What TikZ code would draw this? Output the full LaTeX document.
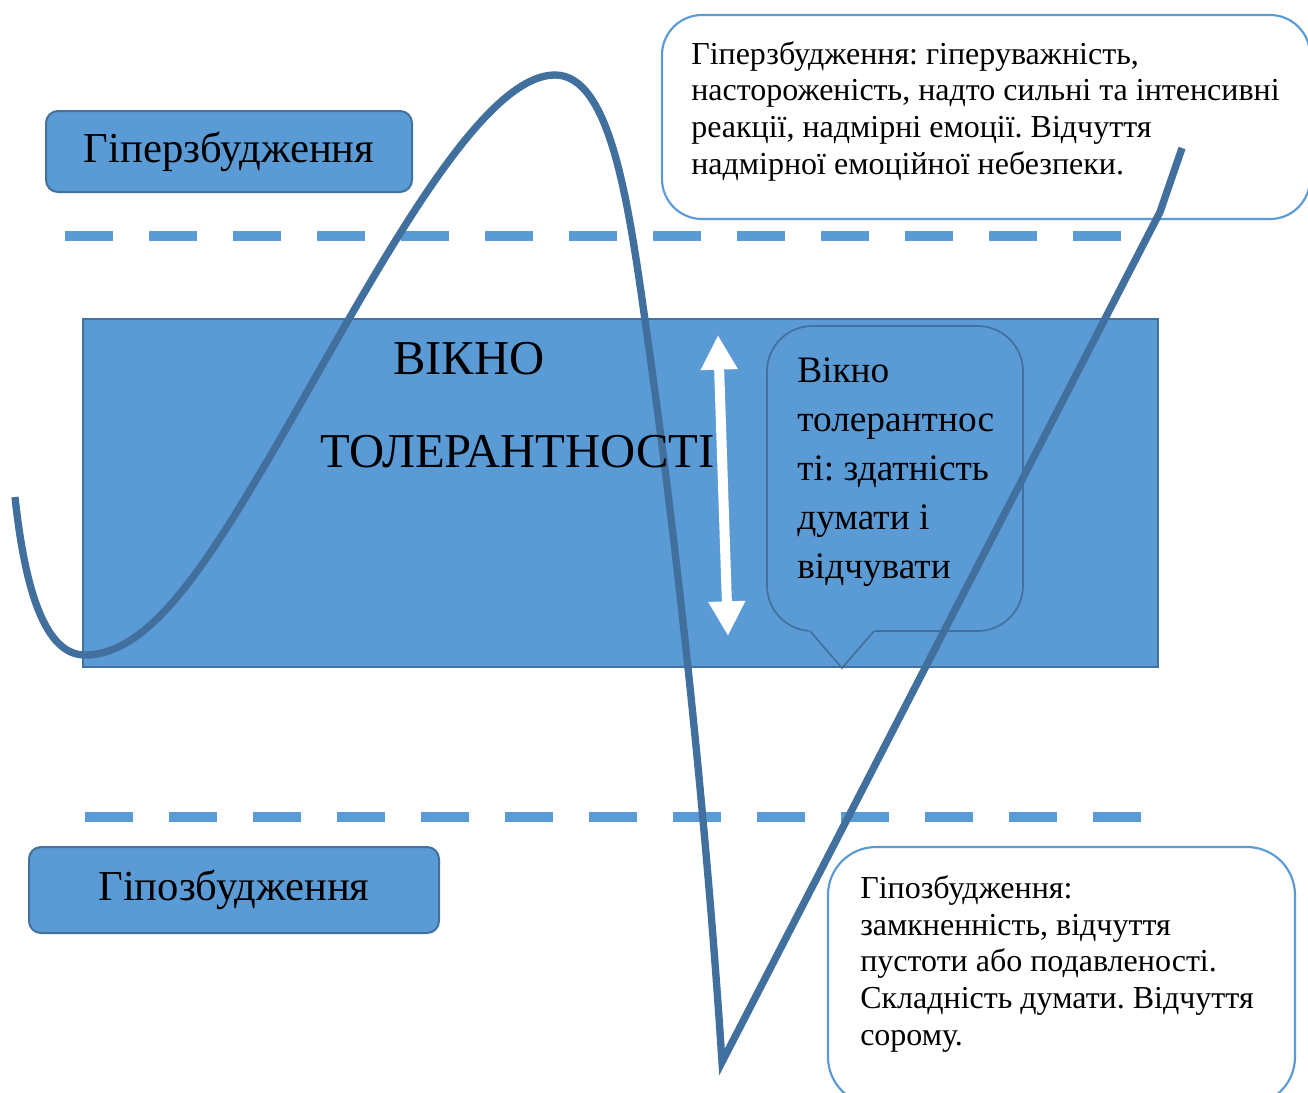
\documentclass[tikz,border=0pt]{standalone}
\usepackage{fontspec}
\setmainfont{Liberation Serif}
\usetikzlibrary{arrows.meta}
\definecolor{fillblue}{RGB}{91,155,213}
\definecolor{edgeblue}{RGB}{65,113,156}
\definecolor{curveblue}{RGB}{66,112,158}
\frenchspacing
\begin{document}
\begin{tikzpicture}[x=0.75pt,y=-0.75pt,
  levelbox/.style={draw=edgeblue, fill=fillblue, line width=1.5pt, rounded corners=9pt, inner sep=0pt,
    font=\fontsize{32}{36}\selectfont},
  windowbox/.style={draw=edgeblue, fill=fillblue, line width=1.5pt, inner sep=0pt},
  notebox/.style={draw=fillblue, fill=white, line width=1.6pt, inner sep=0pt},
  bubblebox/.style={draw=edgeblue, fill=fillblue, line width=1.3pt, rounded corners=34pt, inner sep=0pt},
  dashline/.style={fillblue, line width=7.5pt, dash pattern=on 36pt off 27pt},
  curve/.style={curveblue, line width=5.5pt},
  notetext/.style={anchor=base west, align=left, inner sep=0pt, font=\fontsize{24}{27.5}\selectfont},
  bubbletext/.style={anchor=base west, align=left, inner sep=0pt, font=\fontsize{28}{36.75}\selectfont},
  bigtext/.style={anchor=base west, inner sep=0pt, font=\fontsize{36.5}{40}\selectfont},
]
\useasboundingbox (0,0) rectangle (1308,1092);
\fill[white] (0,0) rectangle (1308,1092);

% window of tolerance
\node[windowbox, minimum width=806.25pt, minimum height=261pt] (window) at (620.5,493) {};

% dashed borders
\coordinate (dt1) at (65,236);
\coordinate (dt2) at (1121,236);
\coordinate (db1) at (85,817);
\coordinate (db2) at (1141,817);
\draw[dashline] (dt1) -- (dt2);
\draw[dashline] (db1) -- (db2);

% level boxes
\node[levelbox, minimum width=274.5pt, minimum height=60.75pt] (hyper) at (229,151.5) {Гіперзбудження};
\node[levelbox, minimum width=307.5pt, minimum height=64.5pt] (hypo) at (234,890) {Гіпозбудження};

% notes
\node[notebox, rounded corners=30pt, minimum width=486pt, minimum height=153pt] (hypernote) at (986,117) {};
\node[notebox, rounded corners=36pt, minimum width=350.25pt, minimum height=193.5pt] (hyponote) at (1061.5,976) {};

% speech bubble
\node[bubblebox, minimum width=192pt, minimum height=228.75pt] (bubble) at (895,478.5) {};
\fill[fillblue] (809,628) rectangle (875,634);
\coordinate (tailL) at (810,631);
\coordinate (tailT) at (842,668);
\coordinate (tailR) at (874,631);
\draw[edgeblue, line width=1.3pt] (tailL) -- (tailT) -- (tailR);

% white double arrow
\coordinate (arrA) at (718,335);
\coordinate (arrB) at (728,636);
\draw[white, line width=7.5pt, {Triangle[length=26pt,width=26pt]}-{Triangle[length=26pt,width=26pt]}] (arrA) -- (arrB);

% curve
\coordinate (c0) at (15,497);
\coordinate (cmin) at (85,655);
\coordinate (c1) at (250,490);
\coordinate (cpeak) at (555,75);
\coordinate (c2) at (645,320);
\coordinate (cbot) at (722,1062);
\coordinate (c3) at (1160,212);
\coordinate (cend) at (1182,148);
\draw[curve] (c0) .. controls (25,590) and (45,655) .. (cmin)
  .. controls (140,655) and (190,590) .. (c1)
  .. controls (350,325) and (470,75) .. (cpeak)
  .. controls (610,75) and (628,200) .. (c2)
  .. controls (675,530) and (705,800) .. (cbot)
  -- (c3) -- (cend);

% texts (multi-line nodes: base = baseline of last line)
\node[bigtext] (t1) at (393,374) {ВІКНО};
\node[bigtext] (t2) at (320,467) {ТОЛЕРАНТНОСТІ};
\node[bubbletext] (bt) at (797,578) {Вікно\\толерантнос\\ті: здатність\\думати і\\відчувати};
\node[notetext] (ht) at (691,174) {Гіперзбудження: гіперуважність,\\настороженість, надто сильні та інтенсивні\\реакції, надмірні емоції. Відчуття\\надмірної емоційної небезпеки.};
\node[notetext] (lt) at (860,1045) {Гіпозбудження:\\замкненність, відчуття\\пустоти або подавленості.\\Складність думати. Відчуття\\сорому.};
\end{tikzpicture}
\end{document}
